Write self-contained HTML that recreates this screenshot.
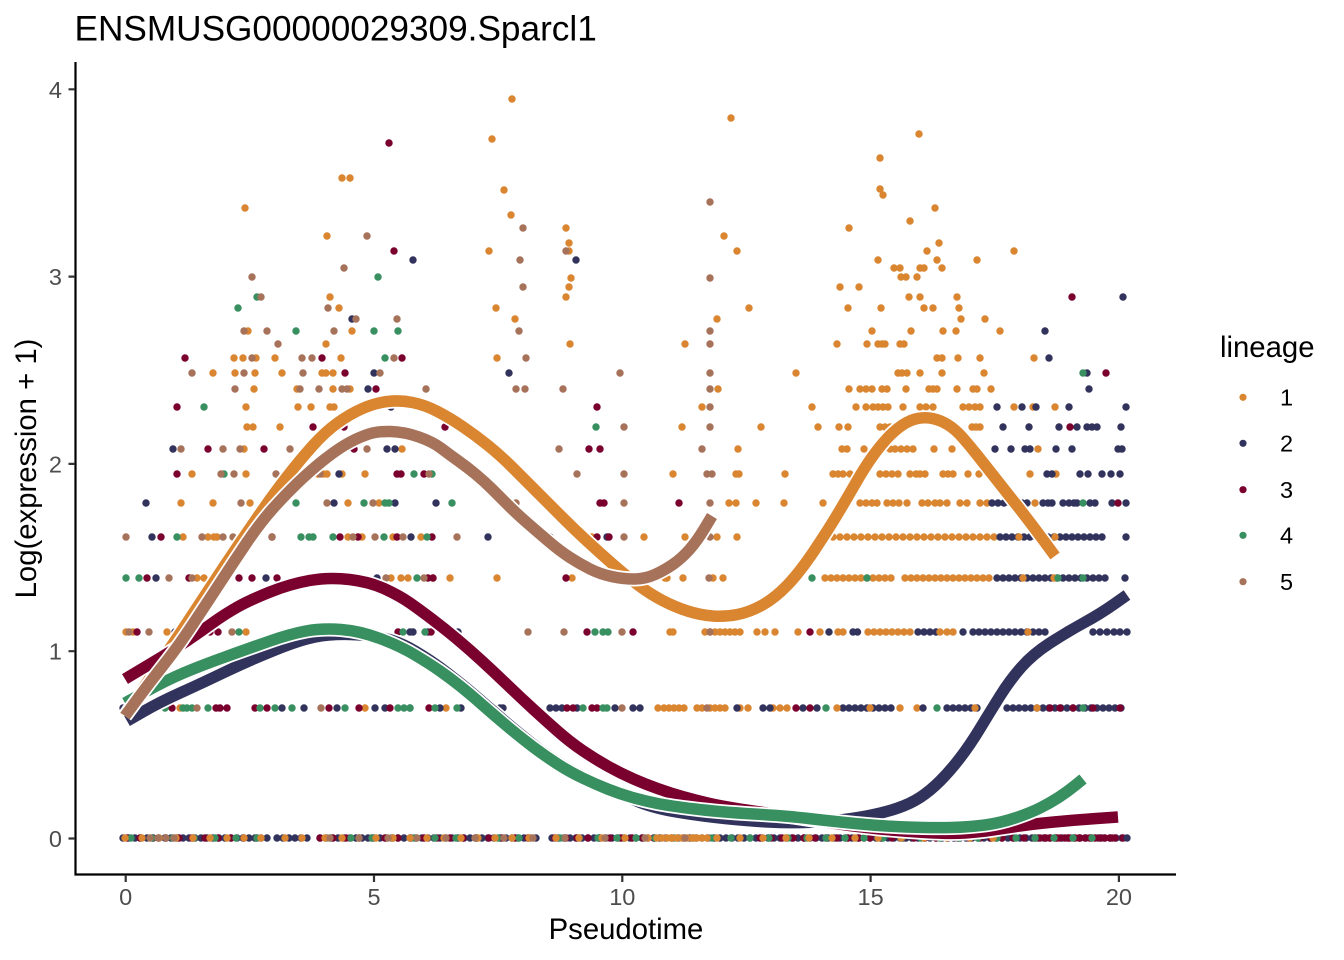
<!DOCTYPE html>
<html><head><meta charset="utf-8"><style>
html,body{margin:0;padding:0;background:#fff;}
svg{display:block;font-family:"Liberation Sans",Arial,Helvetica,sans-serif;}
</style></head><body>
<svg width="1344" height="960" viewBox="0 0 1344 960" xmlns="http://www.w3.org/2000/svg">
<rect width="1344" height="960" fill="#fff"/>
<text x="74.5" y="40.7" font-size="35.2" fill="#000">ENSMUSG00000029309.Sparcl1</text>

<g fill="none" stroke-linecap="round" stroke-width="7.4">
<!-- dense rows -->
<path stroke="#32335C" stroke-dasharray="0 6" d="M123 838H270M277 838H313M320 838H537"/>
<path stroke="#32335C" stroke-dasharray="0 6" d="M552 838H1128"/>
<path stroke="#7A002E" stroke-dasharray="0 13" d="M127 838H270M320 838H537"/>
<path stroke="#7A002E" stroke-dasharray="0 11" d="M555 838H660M760 838H1128"/>
<path stroke="#7A002E" stroke-dasharray="0 5" d="M1035 838H1120"/>
<path stroke="#388F60" stroke-dasharray="0 21" d="M131 838H270M330 838H537"/>
<path stroke="#388F60" stroke-dasharray="0 19" d="M560 838H1100"/>
<path stroke="#DA8530" stroke-dasharray="0 17" d="M125 838H270M285 838H313M325 838H537"/>
<path stroke="#DA8530" stroke-dasharray="0 23" d="M556 838H1000"/>
<path stroke="#DA8530" stroke-dasharray="0 5" d="M657 838H712"/>
<path stroke="#A6725A" stroke-dasharray="0 8" d="M150 838H180"/>
<path stroke="#A6725A" stroke-dasharray="0 29" d="M330 838H537"/>
<path stroke="#A6725A" stroke-dasharray="0 40" d="M565 838H720"/>
<path stroke="#32335C" d="M1127 838h.01"/>

<path stroke="#32335C" stroke-dasharray="0 6" d="M550 708H563M843 708H893M947 708H983M1007 708H1127"/>
<path stroke="#DA8530" stroke-dasharray="0 5" d="M664 708H688M710 708H727"/>
<path stroke="#DA8530" stroke-dasharray="0 5" d="M705 632H745"/>
<path stroke="#DA8530" stroke-dasharray="0 6" d="M868 632H915M825 578H893M905 578H993"/>
<path stroke="#DA8530" stroke-dasharray="0 7" d="M826 537H1000"/>
<path stroke="#32335C" stroke-dasharray="0 6" d="M973 632H1048M918 632H937M997 578H1110M1000 537H1107"/>
<path stroke="#32335C" stroke-dasharray="0 4.5" d="M853 632H862"/>

<!-- orange points -->
<path stroke="#DA8530" d="M512 99h.01M731 118h.01M492 139h.01M919 134h.01M880 158h.01M342 178h.01M350 178h.01M880 189h.01M883 195h.01M504 190h.01M935 208h.01M245 208h.01M511 215h.01M910 221h.01M849 228h.01M566 228h.01M724 236h.01M327 236h.01M569 243h.01M939 243h.01M489 251h.01M569 251h.01M737 251h.01M927 251h.01M1014 251h.01M878 260h.01M937 260h.01M977 260h.01M894 268h.01M900 268h.01M920 268h.01M924 268h.01M942 268h.01M571 278h.01M901 277h.01M906 277h.01M917 277h.01M840 287h.01M859 287h.01M569 287h.01M566 297h.01M330 297h.01M909 297h.01M920 297h.01M957 297h.01M339 308h.01M496 308h.01M749 308h.01M848 308h.01M881 308h.01M924 308h.01M933 308h.01M959 308h.01M515 319h.01M717 319h.01M961 319h.01M985 319h.01
M248 331h.01M352 331h.01M872 331h.01M911 331h.01M943 331h.01M956 331h.01M1000 331h.01
M326 344h.01M570 344h.01M685 344h.01M837 344h.01M867 344h.01M878 344h.01M882 344h.01M885 344h.01M900 344h.01M904 344h.01
M234 358h.01M243 358h.01M256 358h.01M275 358h.01M341 358h.01M497 358h.01M937 358h.01M942 358h.01M958 358h.01M980 358h.01M1034 358h.01
M213 373h.01M235 373h.01M255 373h.01M282 373h.01M322 373h.01M326 373h.01M333 373h.01M796 373h.01M898 373h.01M902 373h.01M907 373h.01M920 373h.01M942 373h.01M984 373h.01
M254 389h.01M297 389h.01M333 389h.01M350 389h.01M718 389h.01M849 389h.01M860 389h.01M866 389h.01M872 389h.01M882 389h.01M887 389h.01M906 389h.01M929 389h.01M933 389h.01M937 389h.01M957 389h.01M973 389h.01M977 389h.01M991 389h.01
M246 407h.01M298 407h.01M311 407h.01M330 407h.01M334 407h.01M702 407h.01M812 407h.01M856 407h.01M866 407h.01M873 407h.01M878 407h.01M883 407h.01M888 407h.01M903 407h.01M920 407h.01M926 407h.01M933 407h.01M963 407h.01M969 407h.01M975 407h.01M980 407h.01M1014 407h.01M1033 407h.01M1055 407h.01
M247 427h.01M253 427h.01M280 427h.01M682 427h.01M761 427h.01M818 427h.01M839 427h.01M848 427h.01M880 427h.01M885 427h.01M890 427h.01M972 427h.01M976 427h.01M980 427h.01
M244 449h.01M402 449h.01M738 449h.01M842 449h.01M847 449h.01M864 449h.01M890 449h.01M895 449h.01M901 449h.01M907 449h.01M913 449h.01M934 449h.01M952 449h.01M973 449h.01M1038 449h.01
M192 474h.01M246 474h.01M313 474h.01M318 474h.01M323 474h.01M327 474h.01M342 474h.01M365 474h.01M673 474h.01M736 474h.01M739 474h.01M785 474h.01M833 474h.01M838 474h.01M843 474h.01M850 474h.01M880 474h.01M886 474h.01M892 474h.01M898 474h.01M910 474h.01M916 474h.01M920 474h.01M925 474h.01M943 474h.01M948 474h.01M953 474h.01M968 474h.01M979 474h.01M1030 474h.01M1056 474h.01
M181 503h.01M213 503h.01M250 503h.01M348 503h.01M379 503h.01M729 503h.01M736 503h.01M756 503h.01M784 503h.01M823 503h.01M860 503h.01M866 503h.01M872 503h.01M877 503h.01M887 503h.01M893 503h.01M899 503h.01M907 503h.01M922 503h.01M928 503h.01M935 503h.01M940 503h.01M947 503h.01M960 503h.01M967 503h.01M980 503h.01M987 503h.01M1035 503h.01
M183 537h.01M208 537h.01M214 537h.01M217 537h.01M348 537h.01M362 537h.01M393 537h.01M421 537h.01M592 537h.01M644 537h.01M685 537h.01M717 537h.01M737 537h.01M1019 537h.01M1055 537h.01
M197 578h.01M204 578h.01M391 578h.01M401 578h.01M408 578h.01M433 578h.01M450 578h.01M497 578h.01M572 578h.01M665 578h.01M667 578h.01M683 578h.01M713 578h.01M723 578h.01M1023 578h.01M1054 578h.01
M126 632h.01M133 632h.01M167 632h.01M246 632h.01M670 632h.01M673 632h.01M757 632h.01M765 632h.01M775 632h.01M798 632h.01M820 632h.01M838 632h.01M843 632h.01M940 632h.01M947 632h.01M953 632h.01M1028 632h.01
M126 708h.01M180 708h.01M365 708h.01M446 708h.01M658 708h.01M697 708h.01M702 708h.01M740 708h.01M748 708h.01M773 708h.01M780 708h.01M787 708h.01M837 708h.01M870 708h.01M900 708h.01M917 708h.01M975 708h.01M1037 708h.01"/>

<!-- navy points -->
<path stroke="#32335C" d="M576 260h.01M413 260h.01M509 373h.01M1045 331h.01M1049 358h.01M1087 373h.01M1089 389h.01M1123 297h.01M352 319h.01
M374 373h.01M368 389h.01
M391 407h.01M997 407h.01M1022 407h.01M1036 407h.01M1069 407h.01M1126 407h.01
M1003 427h.01M1029 427h.01M1059 427h.01M1077 427h.01M1087 427h.01M1092 427h.01M1097 427h.01M1121 427h.01
M173 449h.01M343 449h.01M387 449h.01M395 449h.01M995 449h.01M1011 449h.01M1025 449h.01M1030 449h.01M1056 449h.01M1072 449h.01M1118 449h.01M1122 449h.01
M339 474h.01M1047 474h.01M1052 474h.01M1080 474h.01M1088 474h.01M1102 474h.01M1111 474h.01M1120 474h.01
M146 503h.01M334 503h.01M395 503h.01M436 503h.01M552 503h.01M992 503h.01M998 503h.01M1004 503h.01M1010 503h.01M1022 503h.01M1027 503h.01M1043 503h.01M1048 503h.01M1052 503h.01M1063 503h.01M1069 503h.01M1074 503h.01M1077 503h.01M1090 503h.01M1095 503h.01M1112 503h.01M1126 503h.01
M152 537h.01M411 537h.01M488 537h.01M550 537h.01M607 537h.01M1126 537h.01
M156 578h.01M266 578h.01M377 578h.01M1125 578h.01
M175 632h.01M410 632h.01M413 632h.01M428 632h.01M458 632h.01M829 632h.01M963 632h.01M1093 632h.01M1100 632h.01M1107 632h.01M1114 632h.01M1120 632h.01M1127 632h.01
M123 708h.01M129 708h.01M282 708h.01M304 708h.01M337 708h.01M375 708h.01M385 708h.01M410 708h.01M440 708h.01M461 708h.01M500 708h.01M503 708h.01M577 708h.01M615 708h.01M633 708h.01M640 708h.01M737 708h.01M763 708h.01M770 708h.01M803 708h.01M817 708h.01M923 708h.01"/>

<!-- maroon points -->
<path stroke="#7A002E" d="M389 143h.01M394 251h.01M1072 297h.01M1106 373h.01M1070 427h.01M1118 503h.01
M185 358h.01M322 358h.01M402 358h.01M345 373h.01M376 389h.01M177 407h.01M597 407h.01
M313 427h.01M344 427h.01M445 427h.01
M208 449h.01M264 449h.01M354 449h.01M589 449h.01M600 449h.01
M177 474h.01M397 474h.01M401 474h.01M424 474h.01
M600 503h.01M604 503h.01M679 503h.01
M161 537h.01M272 537h.01M340 537h.01M358 537h.01M397 537h.01M432 537h.01M547 537h.01M597 537h.01M609 537h.01
M147 578h.01M189 578h.01M239 578h.01M252 578h.01M277 578h.01M428 578h.01M433 578h.01M566 578h.01
M137 632h.01M210 632h.01M218 632h.01M398 632h.01M431 632h.01M587 632h.01M633 632h.01M810 632h.01
M172 708h.01M216 708h.01M220 708h.01M227 708h.01M255 708h.01M267 708h.01M329 708h.01M359 708h.01M390 708h.01M429 708h.01M567 708h.01M573 708h.01M592 708h.01M597 708h.01M796 708h.01M810 708h.01M1050 708h.01M1060 708h.01M1073 708h.01M1093 708h.01M1120 708h.01"/>

<!-- green points -->
<path stroke="#388F60" d="M238 308h.01M257 297h.01M378 277h.01
M296 331h.01M374 331h.01M398 331h.01M385 358h.01M204 407h.01M596 427h.01
M224 474h.01M414 474h.01M432 474h.01
M296 503h.01M364 503h.01M385 503h.01M389 503h.01M452 503h.01
M177 537h.01M301 537h.01M309 537h.01M313 537h.01M333 537h.01M384 537h.01M427 537h.01M585 537h.01
M126 578h.01M139 578h.01M417 578h.01M812 578h.01M867 578h.01M1058 578h.01M1083 578h.01
M239 632h.01M403 632h.01M425 632h.01M595 632h.01M603 632h.01M608 632h.01
M1083 373h.01M1083 503h.01
M165 708h.01M183 708h.01M187 708h.01M192 708h.01M208 708h.01M260 708h.01M275 708h.01M292 708h.01M345 708h.01M398 708h.01M404 708h.01M410 708h.01M435 708h.01M457 708h.01M583 708h.01M603 708h.01M607 708h.01M826 708h.01M937 708h.01M1083 708h.01"/>

<!-- brown points -->
<path stroke="#A6725A" d="M367 236h.01M344 268h.01M252 277h.01M261 297h.01M328 308h.01M356 319h.01M397 319h.01M523 228h.01M520 260h.01M566 251h.01M523 287h.01M519 331h.01M526 358h.01M516 389h.01M525 389h.01M563 389h.01M620 373h.01M624 427h.01
M710 202h.01M710 278h.01M710 331h.01M710 344h.01M710 373h.01M710 389h.01M710 407h.01M710 427h.01M702 449h.01M707 474h.01M712 474h.01M710 503h.01M710 537h.01M709 578h.01M710 632h.01M707 708h.01
M244 331h.01M267 331h.01M334 331h.01M278 344h.01
M252 358h.01M302 358h.01M312 358h.01M394 358h.01
M192 373h.01M244 373h.01M303 373h.01M380 373h.01
M235 389h.01M300 389h.01M319 389h.01M342 389h.01M347 389h.01M426 389h.01
M181 449h.01M223 449h.01M240 449h.01M290 449h.01M367 449h.01M559 449h.01
M221 474h.01M234 474h.01M276 474h.01M320 474h.01M429 474h.01M577 474h.01M624 474h.01
M241 503h.01M327 503h.01M373 503h.01M516 503h.01M624 503h.01
M126 537h.01M202 537h.01M223 537h.01M233 537h.01M272 537h.01M353 537h.01M375 537h.01M403 537h.01M457 537h.01M624 537h.01
M169 578h.01M192 578h.01M386 578h.01M424 578h.01
M129 632h.01M149 632h.01M232 632h.01M528 632h.01M564 632h.01M622 632h.01
M197 708h.01M321 708h.01M622 708h.01"/>
</g>

<!-- smooth curves -->
<g fill="none" stroke-linejoin="round" stroke-linecap="butt">
<path id="c1" stroke="#fff" stroke-width="15" d="M125 716L137.5 697Q150 678 162.5 659.5Q175 641 187.5 622Q200 603 212.5 584Q225 565 237.5 546.5Q250 528 262.5 510Q275 492 287.5 476Q300 460 312.5 446Q325 432 337.5 423Q350 414 362.5 408.5Q375 403 387.5 401.5Q400 400 412.5 402.5Q425 405 437.5 411.5Q450 418 462.5 426.5Q475 435 487.5 445Q500 455 512.5 467.5Q525 480 537.5 492.5Q550 505 562.5 517.5Q575 530 587.5 541.5Q600 553 612.5 564Q625 575 637.5 584.5Q650 594 662.5 600.5Q675 607 687.5 611Q700 615 712.5 616Q725 617 737.5 614.5Q750 612 762.5 605Q775 598 787.5 585Q800 572 815 549.5Q830 527 840 510Q850 493 857.5 480Q865 467 872.5 456.5Q880 446 887.5 438Q895 430 902.5 425Q910 420 917.5 418.5Q925 417 932.5 418.5Q940 420 947.5 424.5Q955 429 962.5 437.5Q970 446 977.5 455.5Q985 465 992.5 474.5Q1000 484 1015 503Q1030 522 1042.5 539L1055 556"/>
<path stroke="#DA8530" stroke-width="11.5" d="M125 716L137.5 697Q150 678 162.5 659.5Q175 641 187.5 622Q200 603 212.5 584Q225 565 237.5 546.5Q250 528 262.5 510Q275 492 287.5 476Q300 460 312.5 446Q325 432 337.5 423Q350 414 362.5 408.5Q375 403 387.5 401.5Q400 400 412.5 402.5Q425 405 437.5 411.5Q450 418 462.5 426.5Q475 435 487.5 445Q500 455 512.5 467.5Q525 480 537.5 492.5Q550 505 562.5 517.5Q575 530 587.5 541.5Q600 553 612.5 564Q625 575 637.5 584.5Q650 594 662.5 600.5Q675 607 687.5 611Q700 615 712.5 616Q725 617 737.5 614.5Q750 612 762.5 605Q775 598 787.5 585Q800 572 815 549.5Q830 527 840 510Q850 493 857.5 480Q865 467 872.5 456.5Q880 446 887.5 438Q895 430 902.5 425Q910 420 917.5 418.5Q925 417 932.5 418.5Q940 420 947.5 424.5Q955 429 962.5 437.5Q970 446 977.5 455.5Q985 465 992.5 474.5Q1000 484 1015 503Q1030 522 1042.5 539L1055 556"/>

<path stroke="#fff" stroke-width="15" d="M127 721L143.5 711.5Q160 702 180 693Q200 684 225 672Q250 660 275 650Q300 640 315 637Q330 634 350 634.5Q370 635 385 638.5Q400 642 415 651Q430 660 440 667.5Q450 675 460 683Q470 691 482.5 702Q495 713 507.5 723.5Q520 734 532.5 744Q545 754 557.5 762Q570 770 582.5 776.5Q595 783 607.5 788.5Q620 794 636.5 801Q653 808 676.5 812Q700 816 725 818.5Q750 821 768.5 822Q787 823 803.5 822.5Q820 822 835 820.5Q850 819 866.5 816Q883 813 896.5 808.5Q910 804 920 797.5Q930 791 940 781Q950 771 960 758Q970 745 980 728.5Q990 712 1000 696Q1010 680 1021.5 667Q1033 654 1050 643Q1067 632 1083.5 623Q1100 614 1113.5 604.5L1127 595"/>
<path stroke="#32335C" stroke-width="11.5" d="M127 721L143.5 711.5Q160 702 180 693Q200 684 225 672Q250 660 275 650Q300 640 315 637Q330 634 350 634.5Q370 635 385 638.5Q400 642 415 651Q430 660 440 667.5Q450 675 460 683Q470 691 482.5 702Q495 713 507.5 723.5Q520 734 532.5 744Q545 754 557.5 762Q570 770 582.5 776.5Q595 783 607.5 788.5Q620 794 636.5 801Q653 808 676.5 812Q700 816 725 818.5Q750 821 768.5 822Q787 823 803.5 822.5Q820 822 835 820.5Q850 819 866.5 816Q883 813 896.5 808.5Q910 804 920 797.5Q930 791 940 781Q950 771 960 758Q970 745 980 728.5Q990 712 1000 696Q1010 680 1021.5 667Q1033 654 1050 643Q1067 632 1083.5 623Q1100 614 1113.5 604.5L1127 595"/>

<path stroke="#fff" stroke-width="15" d="M125 679L137.5 671.5Q150 664 162.5 656.5Q175 649 187.5 640.5Q200 632 212.5 623Q225 614 237.5 607Q250 600 270 592Q290 584 309.5 580.5Q329 577 349.5 579.5Q370 582 385 589Q400 596 410 603Q420 610 432.5 619.5Q445 629 457.5 639.5Q470 650 482.5 661.5Q495 673 507.5 685Q520 697 532.5 708.5Q545 720 557.5 731Q570 742 582.5 750.5Q595 759 607.5 766Q620 773 632.5 778.5Q645 784 657.5 788.5Q670 793 682.5 796.5Q695 800 707.5 803Q720 806 740 809Q760 812 780 815Q800 818 825 822Q850 826 875 828.5Q900 831 925 832.5Q950 834 965 833Q980 832 990 830.5Q1000 829 1016.5 826.5Q1033 824 1054 822Q1075 820 1096.5 818.5L1118 817"/>
<path stroke="#7A002E" stroke-width="11.5" d="M125 679L137.5 671.5Q150 664 162.5 656.5Q175 649 187.5 640.5Q200 632 212.5 623Q225 614 237.5 607Q250 600 270 592Q290 584 309.5 580.5Q329 577 349.5 579.5Q370 582 385 589Q400 596 410 603Q420 610 432.5 619.5Q445 629 457.5 639.5Q470 650 482.5 661.5Q495 673 507.5 685Q520 697 532.5 708.5Q545 720 557.5 731Q570 742 582.5 750.5Q595 759 607.5 766Q620 773 632.5 778.5Q645 784 657.5 788.5Q670 793 682.5 796.5Q695 800 707.5 803Q720 806 740 809Q760 812 780 815Q800 818 825 822Q850 826 875 828.5Q900 831 925 832.5Q950 834 965 833Q980 832 990 830.5Q1000 829 1016.5 826.5Q1033 824 1054 822Q1075 820 1096.5 818.5L1118 817"/>

<path stroke="#fff" stroke-width="15" d="M125 703L146 691.5Q167 680 183.5 673Q200 666 225 657Q250 648 270 641Q290 634 306 631Q322 628 341 629.5Q360 631 380 638.5Q400 646 415 655Q430 664 440 671Q450 678 460 686Q470 694 482.5 705Q495 716 507.5 726.5Q520 737 532.5 746.5Q545 756 557.5 764Q570 772 582.5 778Q595 784 607.5 789Q620 794 632.5 797.5Q645 801 657.5 803.5Q670 806 695 809Q720 812 753.5 814Q787 816 808.5 818.5Q830 821 855 823.5Q880 826 906.5 827Q933 828 951.5 827.5Q970 827 985 825Q1000 823 1015 818Q1030 813 1040 808Q1050 803 1058.5 797.5Q1067 792 1075 785.5L1083 779"/>
<path stroke="#388F60" stroke-width="11.5" d="M125 703L146 691.5Q167 680 183.5 673Q200 666 225 657Q250 648 270 641Q290 634 306 631Q322 628 341 629.5Q360 631 380 638.5Q400 646 415 655Q430 664 440 671Q450 678 460 686Q470 694 482.5 705Q495 716 507.5 726.5Q520 737 532.5 746.5Q545 756 557.5 764Q570 772 582.5 778Q595 784 607.5 789Q620 794 632.5 797.5Q645 801 657.5 803.5Q670 806 695 809Q720 812 753.5 814Q787 816 808.5 818.5Q830 821 855 823.5Q880 826 906.5 827Q933 828 951.5 827.5Q970 827 985 825Q1000 823 1015 818Q1030 813 1040 808Q1050 803 1058.5 797.5Q1067 792 1075 785.5L1083 779"/>

<path stroke="#fff" stroke-width="15" d="M125 716L137.5 699Q150 682 163.5 665Q177 648 191 627Q205 606 219 584.5Q233 563 246.5 543Q260 523 272.5 509Q285 495 297.5 483Q310 471 322.5 461Q335 451 345 445Q355 439 366 435Q377 431 391 431.5Q405 432 419 437Q433 442 441.5 448.5Q450 455 458.5 461Q467 467 476 474.5Q485 482 492.5 489.5Q500 497 508.5 505.5Q517 514 528.5 524Q540 534 550 542.5Q560 551 570 557.5Q580 564 590 569Q600 574 611.5 576.5Q623 579 634 579Q645 579 655 574.5Q665 570 673.5 564Q682 558 689.5 549.5Q697 541 704.5 528.5L712 516"/>
<path stroke="#A6725A" stroke-width="11.5" d="M125 716L137.5 699Q150 682 163.5 665Q177 648 191 627Q205 606 219 584.5Q233 563 246.5 543Q260 523 272.5 509Q285 495 297.5 483Q310 471 322.5 461Q335 451 345 445Q355 439 366 435Q377 431 391 431.5Q405 432 419 437Q433 442 441.5 448.5Q450 455 458.5 461Q467 467 476 474.5Q485 482 492.5 489.5Q500 497 508.5 505.5Q517 514 528.5 524Q540 534 550 542.5Q560 551 570 557.5Q580 564 590 569Q600 574 611.5 576.5Q623 579 634 579Q645 579 655 574.5Q665 570 673.5 564Q682 558 689.5 549.5Q697 541 704.5 528.5L712 516"/>
</g>

<!-- axes -->
<g stroke="#000" stroke-width="2.2" fill="none">
<path d="M75.5 62V875.6M74.4 874.5H1176"/>
</g>
<g stroke="#333" stroke-width="2.2">
<path d="M68.5 89.3H75M68.5 276.6H75M68.5 463.9H75M68.5 651.2H75M68.5 838.5H75"/>
<path d="M125.7 875V882M374 875V882M622.3 875V882M870.6 875V882M1118.9 875V882"/>
</g>
<g font-size="23.5" fill="#4D4D4D">
<g text-anchor="end">
<text x="62" y="97.8">4</text>
<text x="62" y="285.1">3</text>
<text x="62" y="472.4">2</text>
<text x="62" y="659.7">1</text>
<text x="62" y="847">0</text>
</g>
<g text-anchor="middle">
<text x="125.7" y="905">0</text>
<text x="374" y="905">5</text>
<text x="622.3" y="905">10</text>
<text x="870.6" y="905">15</text>
<text x="1118.9" y="905">20</text>
</g>
</g>
<text x="626" y="939" font-size="29.3" text-anchor="middle" fill="#000">Pseudotime</text>
<text transform="translate(36,468.5) rotate(-90)" font-size="29.3" text-anchor="middle" fill="#000">Log(expression + 1)</text>

<!-- legend -->
<text x="1220" y="357" font-size="29.3" fill="#000">lineage</text>
<circle cx="1243" cy="397.3" r="3.6" fill="#DA8530"/>
<circle cx="1243" cy="443.3" r="3.6" fill="#32335C"/>
<circle cx="1243" cy="489.7" r="3.6" fill="#7A002E"/>
<circle cx="1243" cy="535.3" r="3.6" fill="#388F60"/>
<circle cx="1243" cy="581.7" r="3.6" fill="#A6725A"/>
<g font-size="23.5" fill="#000">
<text x="1280" y="405.7">1</text>
<text x="1280" y="451.7">2</text>
<text x="1280" y="498">3</text>
<text x="1280" y="543.7">4</text>
<text x="1280" y="590">5</text>
</g>
</svg>
</body></html>
